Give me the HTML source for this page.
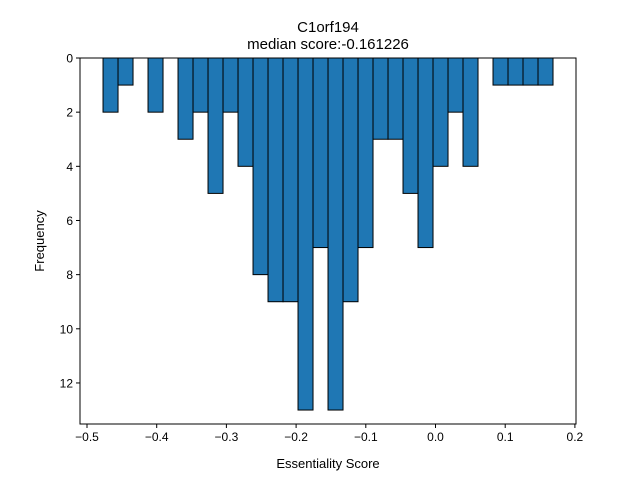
<!DOCTYPE html>
<html><head><meta charset="utf-8"><style>
body{margin:0;background:#fff;}
svg text{font-family:"Liberation Sans","DejaVu Sans",sans-serif;fill:#000;}
</style></head><body>
<svg id="chart" width="640" height="480">
<rect width="640" height="480" fill="#fff"/>
<text x="328" y="32" text-anchor="middle" font-size="15">C1orf194</text>
<text x="328" y="49" text-anchor="middle" font-size="15">median score:-0.161226</text>
<g id="bars"></g>
<g id="axes"></g>
<text x="328" y="468" text-anchor="middle" font-size="13">Essentiality Score</text>
<text transform="translate(44,241) rotate(-90)" text-anchor="middle" font-size="13">Frequency</text>
</svg>
<script>
const counts=[2,1,0,2,0,3,2,5,2,4,8,9,9,13,7,13,9,7,3,3,5,7,4,2,4,0,1,1,1,1];
const binStart=-0.4770;
const binWidth=0.02152;
const xTicks=[-0.5,-0.4,-0.3,-0.2,-0.1,0.0,0.1,0.2];
const xTickLabels=["−0.5","−0.4","−0.3","−0.2","−0.1","0.0","0.1","0.2"];
const yTicks=[0,2,4,6,8,10,12];

const L=80,R=576,T=58,B=424;
const xs=v=>87+(v+0.5)*697;
const ys=v=>T+v*27.08;
const NS="http://www.w3.org/2000/svg";
const bars=document.getElementById('bars'),axes=document.getElementById('axes');
function mk(tag,at,p){const e=document.createElementNS(NS,tag);for(const k in at)e.setAttribute(k,at[k]);p.appendChild(e);return e;}
counts.forEach((c,i)=>{
 if(c<=0)return;
 const x0=xs(binStart+i*binWidth),x1=xs(binStart+(i+1)*binWidth);
 const r=mk('rect',{x:x0,y:ys(0),width:x1-x0,height:ys(c)-ys(0),fill:'#1f77b4',stroke:'#000','stroke-width':1},bars);
 
 
});
mk('rect',{x:L,y:T,width:R-L,height:B-T,fill:'none',stroke:'#000','stroke-width':1},axes);
xTicks.forEach((v,i)=>{
 const x=xs(v);
 mk('line',{x1:x,x2:x,y1:B,y2:B+4,stroke:'#000'},axes);
 const t=mk('text',{x:x,y:B+17,'text-anchor':'middle','font-size':12},axes);
 t.textContent=xTickLabels[i];
 
 
});
yTicks.forEach(v=>{
 const y=ys(v);
 mk('line',{x1:L-4,x2:L,y1:y,y2:y,stroke:'#000'},axes);
 const t=mk('text',{x:L-7,y:y+4.5,'text-anchor':'end','font-size':12},axes);
 t.textContent=v;
 
 
});
</script>
</body></html>
